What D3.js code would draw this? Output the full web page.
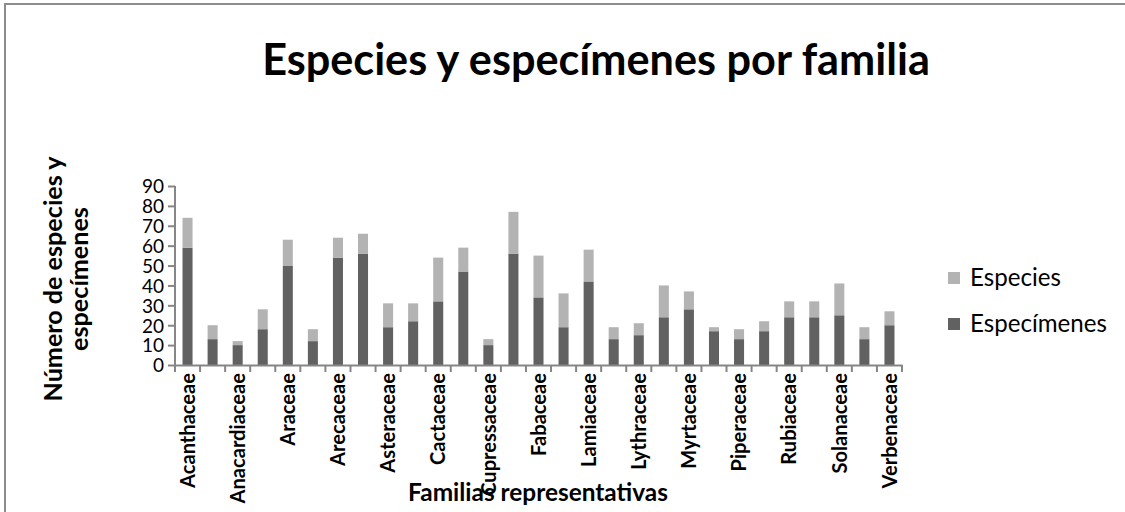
<!DOCTYPE html>
<html>
<head>
<meta charset="utf-8">
<script src="https://cdn.jsdelivr.net/npm/d3@7"></script>
<style>
  body { margin: 0; background: #fff; }
  svg { display: block; }
</style>
</head>
<body>
<div class="canvas"></div>
<script>
// datos (solo se muestran las etiquetas alternas, como en el original)
const familias = [
  'Acanthaceae', 'Amaranthaceae', 'Anacardiaceae', 'Apocynaceae', 'Araceae',
  'Araliaceae', 'Arecaceae', 'Asparagaceae', 'Asteraceae', 'Bignoniaceae',
  'Cactaceae', 'Commelinaceae', 'Cupressaceae', 'Euphorbiaceae', 'Fabaceae',
  'Iridaceae', 'Lamiaceae', 'Lauraceae', 'Lythraceae', 'Malvaceae',
  'Myrtaceae', 'Orchidaceae', 'Piperaceae', 'Poaceae', 'Rubiaceae',
  'Rutaceae', 'Solanaceae', 'Urticaceae', 'Verbenaceae'
]
const especimenes = [59, 13, 10, 18, 50, 12, 54, 56, 19, 22, 32, 47, 10, 56, 34, 19, 42, 13, 15, 24, 28, 17, 13, 17, 24, 24, 25, 13, 20]
const especies = [15, 7, 2, 10, 13, 6, 10, 10, 12, 9, 22, 12, 3, 21, 21, 17, 16, 6, 6, 16, 9, 2, 5, 5, 8, 8, 16, 6, 7]
const yTicks = [0, 10, 20, 30, 40, 50, 60, 70, 80, 90]
const seriesNames = ['Especímenes', 'Especies']
const legendOrder = ['Especies', 'Especímenes']

const width = 1125
const height = 512
const colors = { 'Especímenes': '#616161', 'Especies': '#b3b3b3' }
const axisColor = '#868686'

const svg = d3.select('.canvas')
    .append('svg')
    .attr('width', width)
    .attr('height', height)

// marco del gráfico
svg.append('rect')
    .attr('x', 5)
    .attr('y', 4)
    .attr('width', width + 20)
    .attr('height', height + 20)
    .attr('fill', 'none')
    .attr('stroke', '#8c8c8c')
    .attr('stroke-width', 2)

const margin = { top: 186, left: 175, right: 223, bottom: 147 }
const graphWidth = width - margin.left - margin.right
const graphHeight = height - margin.top - margin.bottom

const graph = svg.append('g')
    .attr('transform', `translate(${margin.left},${margin.top})`)

// escalas
const x = d3.scaleBand()
    .domain(familias)
    .range([0, graphWidth])
    .padding(0)

const y = d3.scaleLinear()
    .domain([0, 90])
    .range([graphHeight, 0])

const table = familias.map((f, i) => ({
  familia: f,
  'Especímenes': especimenes[i],
  'Especies': especies[i]
}))

const stacked = d3.stack().keys(seriesNames)(table)

const barW = x.bandwidth() * 0.4

graph.selectAll('g.serie')
    .data(stacked)
    .enter()
    .append('g')
    .attr('class', 'serie')
    .attr('fill', d => colors[d.key])
    .selectAll('rect')
    .data(d => d)
    .enter()
    .append('rect')
    .attr('x', d => x(d.data.familia) + (x.bandwidth() - barW) / 2)
    .attr('width', barW)
    .attr('y', d => y(d[1]))
    .attr('height', d => y(d[0]) - y(d[1]))

// ajustar texto a un ancho dado
const fit = (sel, target) => {
  const w = sel.node().getComputedTextLength()
  const fs = parseFloat(sel.attr('font-size'))
  const nfs = fs * target / w
  sel.attr('font-size', nfs)
  return nfs
}

// eje y
const yAxis = d3.axisLeft(y)
    .tickValues(yTicks)
    .tickSize(7)
    .tickPadding(4)

const yAxisGroup = graph.append('g').call(yAxis)
yAxisGroup.select('.domain').attr('stroke', axisColor).attr('stroke-width', 2)
    .attr('d', `M0,${graphHeight}V0`)
yAxisGroup.selectAll('.tick line').attr('stroke', axisColor).attr('stroke-width', 2)
yAxisGroup.selectAll('.tick text')
    .attr('font-family', 'Lato, sans-serif')
    .attr('font-size', 19)
    .attr('fill', '#000')
    .attr('dy', '0.36em')

// eje x: etiquetas en el centro, marcas en los límites de categoría
const xAxis = d3.axisBottom(x)
    .tickSize(0)
    .tickPadding(0)
    .tickFormat((d, i) => i % 2 === 0 ? d : '')

const xAxisGroup = graph.append('g')
    .attr('transform', `translate(0,${graphHeight})`)
    .call(xAxis)
xAxisGroup.select('.domain').attr('stroke', axisColor).attr('stroke-width', 2)
const xLabels = xAxisGroup.selectAll('.tick text')
    .attr('transform', 'rotate(-90)')
    .attr('text-anchor', 'end')
    .attr('x', -8)
    .attr('y', 0)
    .attr('dy', '0.36em')
    .attr('font-family', 'Lato, sans-serif')
    .attr('font-weight', 'bold')
    .attr('font-size', 18)
    .attr('fill', '#000')
const labelSize = fit(d3.select(xLabels.nodes()[0]), 115)
xLabels.attr('font-size', labelSize)

xAxisGroup.selectAll('line.limite')
    .data(familias.concat(['__fin']))
    .enter()
    .append('line')
    .attr('class', 'limite')
    .attr('x1', (d, i) => i * x.step())
    .attr('x2', (d, i) => i * x.step())
    .attr('y1', 0)
    .attr('y2', 7)
    .attr('stroke', axisColor)
    .attr('stroke-width', 2)

// título
const title = svg.append('text')
    .attr('x', 596)
    .attr('y', 75)
    .attr('text-anchor', 'middle')
    .attr('font-family', 'Lato, sans-serif')
    .attr('font-weight', 'bold')
    .attr('font-size', 40)
    .text('Especies y especímenes por familia')
fit(title, 668)

// título eje x
const xTitle = svg.append('text')
    .attr('x', 538)
    .attr('y', 501)
    .attr('text-anchor', 'middle')
    .attr('font-family', 'Lato, sans-serif')
    .attr('font-weight', 'bold')
    .attr('font-size', 20)
    .text('Familias representativas')
fit(xTitle, 260)

// título eje y (dos líneas)
const yTitle = svg.append('text')
    .attr('transform', 'translate(0,279) rotate(-90)')
    .attr('text-anchor', 'middle')
    .attr('font-family', 'Lato, sans-serif')
    .attr('font-weight', 'bold')
    .attr('font-size', 22)
const line1 = yTitle.append('tspan').attr('x', 0).attr('y', 62).text('Número de especies y')
yTitle.append('tspan').attr('x', 0).attr('y', 88).text('especímenes')
const tSize = yTitle.attr('font-size') * 245 / line1.node().getComputedTextLength()
yTitle.attr('font-size', tSize)

// leyenda
const legend = svg.append('g')
    .attr('transform', 'translate(948,272)')
const legendTexts = []
legendOrder.forEach((name, i) => {
  const row = legend.append('g').attr('transform', `translate(0,${i * 46})`)
  row.append('rect')
      .attr('width', 12)
      .attr('height', 12)
      .attr('fill', colors[name])
  legendTexts.push(row.append('text')
      .attr('x', 22)
      .attr('y', 14)
      .attr('font-family', 'Lato, sans-serif')
      .attr('font-size', 20)
      .text(name))
})
const legendSize = fit(legendTexts[1], 137)
legendTexts[0].attr('font-size', legendSize)
</script>
</body>
</html>
